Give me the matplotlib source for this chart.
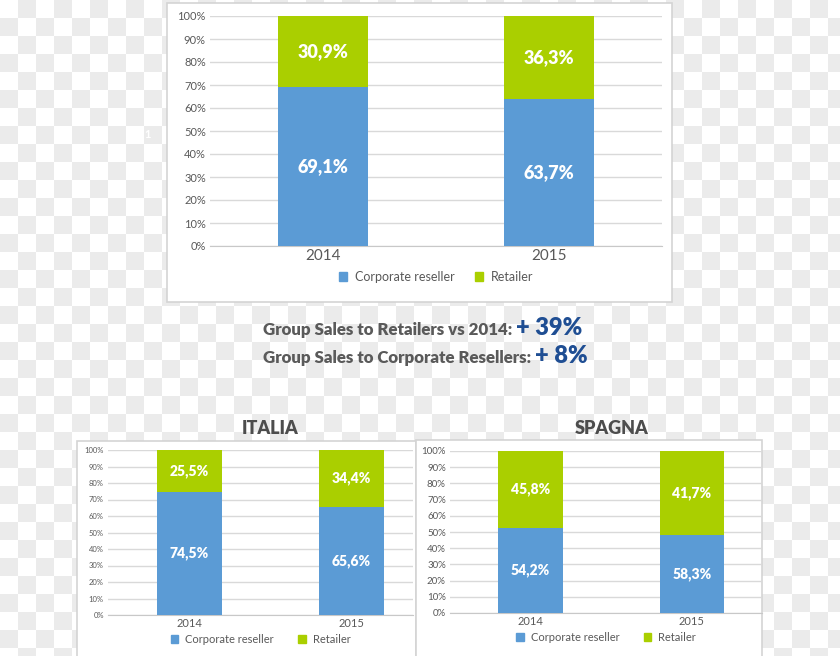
"""
Sales mix charts: group, Italia, Spagna
"""
import numpy as np
import matplotlib
matplotlib.use("Agg")
import matplotlib.pyplot as plt
import matplotlib.patches as mpatches

plt.rcParams['font.family'] = ['Lato', 'DejaVu Sans']

# data
years = ['2014', '2015']
series = ['Corporate reseller', 'Retailer']

group_corp = [69.1, 63.7]
group_retail = [30.9, 36.3]

it_corp = [74.5, 65.6]
it_retail = [25.5, 34.4]

# Spagna: bars as drawn in the picture, labels as printed on them
es_corp_bar = [52.3, 48.2]
es_corp_label = [54.2, 58.3]
es_retail_label = [45.8, 41.7]

headline_text = ['Group Sales to Retailers vs 2014: ', 'Group Sales to Corporate Resellers: ']
headline_value = ['+ 39%', '+ 8%']

BLUE = '#5b9bd5'
GREEN = '#aacf00'
GRID = '#d9d9d9'
TXT = '#595959'
W, H = 840, 656

fig = plt.figure(figsize=(W / 100, H / 100), dpi=100)

# checkerboard background
bg = fig.add_axes([0, 0, 1, 1])
sq = 18
nr, nc = H // sq + 1, W // sq + 1
board = (np.add.outer(np.arange(nr), np.arange(nc)) % 2)
bg.imshow(board, cmap=matplotlib.colors.ListedColormap(['white', '#ebebeb']),
          extent=[0, nc * sq, nr * sq, 0], interpolation='nearest', aspect='auto')
bg.set_xlim(0, W)
bg.set_ylim(H, 0)
bg.axis('off')

# white panels
for (x0, y0, x1, y1) in [(167, 3, 672, 302), (77, 441, 416, 660), (416, 440, 762, 660)]:
    bg.add_patch(mpatches.Rectangle((x0, y0), x1 - x0, y1 - y0, facecolor='white',
                                    edgecolor='#d4d4d4', lw=1.2))
bg.text(148, 134, '1', color='white', fontsize=8, fontweight='bold', ha='center', va='center')


def px_axes(x0, y0, x1, y1):
    return fig.add_axes([x0 / W, 1 - y1 / H, (x1 - x0) / W, (y1 - y0) / H])


def fmt(v):
    return ('%.1f%%' % v).replace('.', ',')


def draw_chart(ax, corp_bar, corp_lab, ret_lab, xr, ytick_fs, xtick_fs, lab_fs, leg_fs, leg_y, colsp):
    x = np.arange(len(years))
    ret_bar = [100 - v for v in corp_bar]
    ax.bar(x, corp_bar, width=0.4, color=BLUE, zorder=3)
    ax.bar(x, ret_bar, width=0.4, bottom=corp_bar, color=GREEN, zorder=3)
    for i in x:
        ax.text(i, corp_bar[i] / 2, fmt(corp_lab[i]), color='white', fontweight='heavy',
                fontsize=lab_fs, ha='center', va='center', zorder=4)
        ax.text(i, corp_bar[i] + ret_bar[i] / 2, fmt(ret_lab[i]), color='white',
                fontweight='heavy', fontsize=lab_fs, ha='center', va='center', zorder=4)
    ax.set_xlim(-0.5, xr)
    ax.set_ylim(0, 100)
    ax.set_yticks(range(0, 101, 10))
    ax.set_yticklabels(['%d%%' % v for v in range(0, 101, 10)])
    ax.set_xticks(x)
    ax.set_xticklabels(years)
    ax.tick_params(axis='y', length=0, labelsize=ytick_fs, labelcolor=TXT, pad=3)
    ax.tick_params(axis='x', length=0, labelsize=xtick_fs, labelcolor=TXT, pad=2)
    ax.grid(axis='y', color=GRID, lw=1, zorder=0)
    for s in ['top', 'right', 'left']:
        ax.spines[s].set_visible(False)
    ax.spines['bottom'].set_color('#c8c8c8')
    ax.patch.set_alpha(0)
    handles = [mpatches.Patch(color=BLUE, label=series[0]),
               mpatches.Patch(color=GREEN, label=series[1])]
    ax.legend(handles=handles, loc='center', bbox_to_anchor=(0.5, leg_y), ncol=2,
              frameon=False, fontsize=leg_fs, handlelength=0.7, handleheight=0.7,
              handletextpad=0.6, columnspacing=colsp, labelcolor=TXT)


# top chart
ax1 = px_axes(210, 16, 662, 246)
draw_chart(ax1, group_corp, group_corp, group_retail, 1.5, 8, 11, 13, 9, -0.135, 1.6)

# Italia
ax2 = px_axes(108, 450, 413, 615)
draw_chart(ax2, it_corp, it_corp, it_retail, 1.38, 5.5, 8, 10, 8, -0.15, 2.2)
fig.text(270 / W, 1 - 429 / H, 'ITALIA', ha='center', va='center', fontsize=13,
         fontweight='heavy', color='#4d4d4d')

# Spagna
ax3 = px_axes(450, 451, 762, 613)
draw_chart(ax3, es_corp_bar, es_corp_label, es_retail_label, 1.435, 7, 8, 10, 8, -0.15, 2.2)
fig.text(612 / W, 1 - 429 / H, 'SPAGNA', ha='center', va='center', fontsize=13,
         fontweight='heavy', color='#4d4d4d')

# headlines
fig.canvas.draw()
r = fig.canvas.get_renderer()
for i, yb in enumerate([335, 363]):
    t = fig.text(263 / W, 1 - yb / H, headline_text[i], fontsize=12.2, fontweight='heavy',
                 color='#5a5a5a', ha='left', va='baseline')
    bb = t.get_window_extent(renderer=r)
    fig.text(bb.x1 / W, 1 - yb / H, headline_value[i], fontsize=17, fontweight='heavy',
             fontstyle='normal', color='#1f4e93', ha='left', va='baseline')

fig.savefig('out.png', dpi=100)
